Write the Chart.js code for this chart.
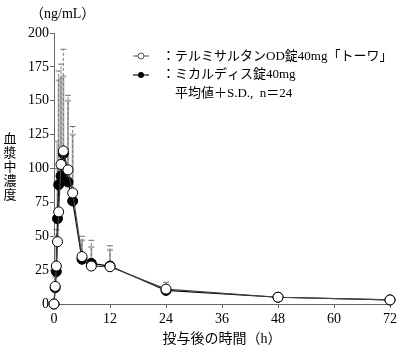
<!DOCTYPE html>
<html>
<head>
<meta charset="utf-8">
<script src="https://cdn.jsdelivr.net/npm/chart.js@4"></script>
<style>
  body { margin: 0; background: #fff; }
</style>
</head>
<body>
<canvas id="pkChart" width="400" height="350"></canvas>
<script>
// sampling times (h)
const times = [0, 0.25, 0.5, 0.75, 1, 1.5, 2, 3, 4, 6, 8, 12, 24, 48, 72];

// テルミサルタンOD錠40mg「トーワ」 (open circles)
const testMean = [0, 13, 28, 46, 68, 103, 113, 99, 82, 35, 28, 27.5, 11, 5, 3];
const testSD   = [0, 9, 27, 54, 104, 74, 75, 55, 49, 15, 19, 15.5, 5, 2, 2];

// ミカルディス錠40mg (filled circles)
const refMean = [0, 12, 24, 63, 88, 94.5, 111, 90, 76, 33, 30, 28, 10, 5, 3];
const refSD   = [0, 8, 26, 57, 77, 72, 57, 60, 49, 14, 12, 12, 4, 2, 2];

const xTicks = [0, 12, 24, 36, 48, 60, 72];

const serif = '"Liberation Serif", "Noto Sans CJK JP", serif';

// SD bars, drawn under the markers
const errorBars = {
  id: "errorBars",
  beforeDatasetsDraw(chart) {
    const { ctx, scales: { x, y } } = chart;

    function draw(mean, sd, color, width, dash) {
      ctx.save();
      ctx.strokeStyle = color;
      ctx.lineWidth = width;
      times.forEach((t, i) => {
        if (!sd[i]) return;
        const px = x.getPixelForValue(t);
        const y0 = y.getPixelForValue(mean[i]);
        const y1 = y.getPixelForValue(mean[i] + sd[i]);
        ctx.setLineDash(dash);
        ctx.beginPath();
        ctx.moveTo(px, y0);
        ctx.lineTo(px, y1);
        ctx.stroke();
        ctx.setLineDash([]);
        ctx.beginPath();
        ctx.moveTo(px - 3, y1);
        ctx.lineTo(px + 3, y1);
        ctx.stroke();
      });
      ctx.restore();
    }

    draw(refMean, refSD, "#b0b0b0", 2, []);
    draw(testMean, testSD, "#777", 1, [3, 2]);
  }
};

// unit, vertical axis title, legend box
const decorations = {
  id: "decorations",
  afterDraw(chart) {
    const ctx = chart.ctx;
    ctx.save();
    ctx.fillStyle = "#000";
    ctx.textBaseline = "middle";

    ctx.font = "14px " + serif;
    ctx.textAlign = "left";
    ctx.fillText("（ng/mL）", 30, 14);

    // 血漿中濃度 stacked vertically
    ctx.textAlign = "center";
    ctx.font = "13px " + serif;
    [..."血漿中濃度"].forEach((c, i) => {
      ctx.fillText(c, 10, 140 + i * 14);
    });

    // legend
    ctx.textAlign = "left";
    ctx.font = "13px " + serif;

    // open marker
    ctx.strokeStyle = "#555";
    ctx.lineWidth = 1;
    ctx.beginPath();
    ctx.moveTo(133, 56);
    ctx.lineTo(149, 56);
    ctx.stroke();
    ctx.beginPath();
    ctx.arc(141, 56, 3, 0, Math.PI * 2);
    ctx.fillStyle = "#fff";
    ctx.fill();
    ctx.stroke();

    // filled marker
    ctx.strokeStyle = "#444";
    ctx.lineWidth = 1.5;
    ctx.beginPath();
    ctx.moveTo(133, 75);
    ctx.lineTo(149, 75);
    ctx.stroke();
    ctx.beginPath();
    ctx.arc(141, 75, 3, 0, Math.PI * 2);
    ctx.fillStyle = "#000";
    ctx.fill();

    ctx.fillStyle = "#000";
    ctx.fillText("：テルミサルタンOD錠40mg「トーワ」", 162, 57);
    ctx.fillText("：ミカルディス錠40mg", 162, 75);
    ctx.fillText("平均値＋S.D.,  n＝24", 175, 94);
    ctx.restore();
  }
};

function toPoints(mean) {
  return times.map((t, i) => ({ x: t, y: mean[i] }));
}

new Chart(document.getElementById("pkChart"), {
  type: "line",
  data: {
    datasets: [
      {
        label: "テルミサルタンOD錠40mg「トーワ」",
        data: toPoints(testMean),
        borderColor: "#444",
        borderWidth: 1.2,
        pointRadius: 5,
        pointBackgroundColor: "#fff",
        pointBorderColor: "#000",
        pointBorderWidth: 1,
        tension: 0,
        clip: false
      },
      {
        label: "ミカルディス錠40mg",
        data: toPoints(refMean),
        borderColor: "#000",
        borderWidth: 1.2,
        pointRadius: 5,
        pointBackgroundColor: "#000",
        pointBorderColor: "#000",
        pointBorderWidth: 1,
        tension: 0,
        clip: false
      }
    ]
  },
  options: {
    responsive: false,
    animation: false,
    layout: { padding: { left: 0, right: 8, top: 33, bottom: 0 } },
    plugins: {
      legend: { display: false },
      tooltip: { enabled: false }
    },
    scales: {
      x: {
        type: "linear",
        min: 0,
        max: 72,
        afterBuildTicks: s => { s.ticks = xTicks.map(v => ({ value: v })); },
        ticks: { color: "#000", padding: 3, font: { family: serif, size: 14 } },
        grid: { drawOnChartArea: false, tickLength: 4, color: "#666" },
        border: { color: "#666" },
        title: {
          display: true,
          text: "投与後の時間（h）",
          color: "#000",
          font: { family: serif, size: 14 },
          padding: { top: 0, bottom: 2 }
        },
        afterFit: s => { s.height = 46; }
      },
      y: {
        min: 0,
        max: 200,
        ticks: { stepSize: 25, color: "#000", padding: 1, font: { family: serif, size: 14 } },
        grid: { drawOnChartArea: false, tickLength: 4, color: "#666" },
        border: { color: "#666" },
        afterFit: s => { s.width = 54; }
      }
    }
  },
  plugins: [errorBars, decorations]
});
</script>
</body>
</html>
